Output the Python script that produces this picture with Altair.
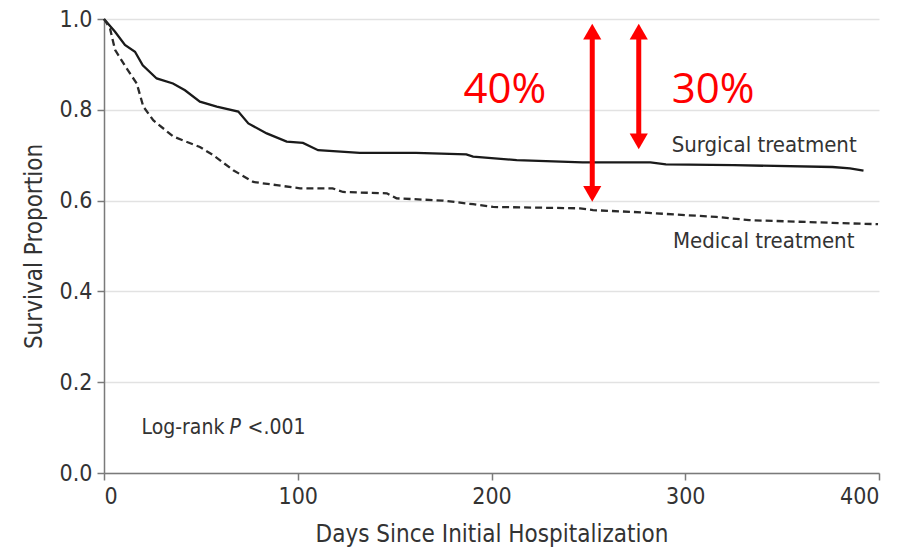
import altair as alt
import pandas as pd

# Kaplan-Meier style survival curves (days since initial hospitalization)
surg_days = [0, 5.7, 10.8, 16, 20, 27.2, 35.6, 41.8, 49.5, 58.2, 69.3, 74.5, 84, 94.3,
             102.7, 110.5, 132, 161, 187, 190.5, 213, 247, 282, 290, 325, 376, 385, 392]
surg_surv = [1.0, 0.972, 0.943, 0.928, 0.898, 0.869, 0.858, 0.843, 0.818, 0.807, 0.796,
             0.770, 0.748, 0.730, 0.727, 0.711, 0.705, 0.705, 0.702, 0.697, 0.689, 0.684,
             0.684, 0.680, 0.678, 0.674, 0.671, 0.666]

med_days = [0, 3.1, 5.7, 11.7, 16.9, 20.3, 25.4, 35.8, 49.5, 56.4, 66.7, 77.1, 89.1, 101.2,
            118, 123.4, 146, 151, 175, 190.5, 200.8, 245.7, 252.4, 273, 316, 333, 376, 399.5]
med_surv = [1.0, 0.979, 0.932, 0.891, 0.858, 0.807, 0.777, 0.741, 0.718, 0.700, 0.667, 0.641,
            0.634, 0.627, 0.627, 0.619, 0.616, 0.605, 0.600, 0.592, 0.586, 0.583, 0.579,
            0.575, 0.564, 0.557, 0.551, 0.548]

# Curve labels
curve_labels = ["Surgical treatment", "Medical treatment"]
curve_label_day = [293, 293.7]
curve_label_val = [0.7075, 0.495]

# Red double arrows marking the mortality gap
arrow_day = [252, 276]
arrow_top = [0.99, 0.99]
arrow_bottom = [0.597, 0.713]
arrow_text = ["40%", "30%"]
arrow_text_day = [185.5, 293]
arrow_text_val = [0.8155, 0.8155]

y_ticks = [0.0, 0.2, 0.4, 0.6, 0.8, 1.0]
x_ticks = [0, 100, 200, 300, 400]

FONT = "Liberation Sans Narrow, DejaVu Sans Condensed, Roboto Condensed, Roboto, sans-serif"
TXT = "#333333"
RED = "#ff0000"

surg = pd.DataFrame({"day": surg_days, "surv": surg_surv})
med = pd.DataFrame({"day": med_days, "surv": med_surv})
lab = pd.DataFrame({"label": curve_labels, "day": curve_label_day, "surv": curve_label_val})
arrows = pd.DataFrame({"day": arrow_day, "top": arrow_top, "bottom": arrow_bottom})
pct = pd.DataFrame({"text": arrow_text, "day": arrow_text_day, "surv": arrow_text_val})
logrank = pd.DataFrame({"day": [19.4], "surv": [0.085]})

x_scale = alt.Scale(domain=[0, 400], nice=False, zero=True)
y_scale = alt.Scale(domain=[0, 1], nice=False)

x_enc = alt.X("day:Q", scale=x_scale, axis=alt.Axis(
    values=x_ticks, title="Days Since Initial Hospitalization", grid=False,
    tickSize=7, labelPadding=5, titlePadding=14, titleFontSize=24))
y_enc = alt.Y("surv:Q", scale=y_scale, axis=alt.Axis(
    values=y_ticks, format=".1f", title="Survival Proportion", grid=True,
    tickSize=7, labelPadding=5, titlePadding=13, titleFontSize=24))

surg_line = alt.Chart(surg).mark_line(color="#1a1a1a", strokeWidth=2.3).encode(x=x_enc, y=y_enc)
med_line = alt.Chart(med).mark_line(color="#2a2a2a", strokeWidth=2.3, strokeDash=[7, 4]).encode(
    x="day:Q", y="surv:Q")

labels = alt.Chart(lab).mark_text(align="left", baseline="alphabetic", font=FONT,
                                  fontSize=22, color=TXT).encode(
    x="day:Q", y="surv:Q", text="label:N")

shafts = alt.Chart(arrows).mark_rule(color=RED, strokeWidth=5, yOffset=10, y2Offset=-10).encode(
    x="day:Q", y="top:Q", y2="bottom:Q")
heads_up = alt.Chart(arrows).mark_point(shape="triangle-up", size=330, filled=True,
                                        color=RED, opacity=1, yOffset=8).encode(
    x="day:Q", y="top:Q")
heads_down = alt.Chart(arrows).mark_point(shape="triangle-down", size=330, filled=True,
                                          color=RED, opacity=1, yOffset=-8).encode(
    x="day:Q", y="bottom:Q")
pct_text = alt.Chart(pct).mark_text(align="left", baseline="alphabetic", font="Open Sans",
                                    fontSize=42, color=RED).encode(
    x="day:Q", y="surv:Q", text="text:N")

lr1 = alt.Chart(logrank).mark_text(align="left", baseline="alphabetic", font=FONT,
                                   fontSize=21, color=TXT, text="Log-rank").encode(
    x="day:Q", y="surv:Q")
lr2 = alt.Chart(logrank).mark_text(align="left", baseline="alphabetic", font=FONT,
                                   fontSize=21, color=TXT, fontStyle="italic", text="P",
                                   dx=88).encode(x="day:Q", y="surv:Q")
lr3 = alt.Chart(logrank).mark_text(align="left", baseline="alphabetic", font=FONT,
                                   fontSize=21, color=TXT, text="<.001", dx=106).encode(
    x="day:Q", y="surv:Q")

chart = alt.layer(
    surg_line, med_line, labels, shafts, heads_up, heads_down, pct_text, lr1, lr2, lr3
).properties(
    width=775, height=454,
    autosize=alt.AutoSizeParams(type="none"),
    padding={"left": 104, "top": 19, "right": 36, "bottom": 77},
    background="white",
).configure_view(stroke=None).configure_axis(
    labelFont=FONT, titleFont=FONT, labelFontSize=23,
    labelColor=TXT, titleColor=TXT, titleFontWeight="normal",
    domainColor="#7a7a7a", domainWidth=1.5, tickColor="#7a7a7a", tickWidth=1.5,
    gridColor="#e2e2e2", gridWidth=1.5,
)

chart.save("out.html", embed_options={"renderer": "svg", "actions": False})
